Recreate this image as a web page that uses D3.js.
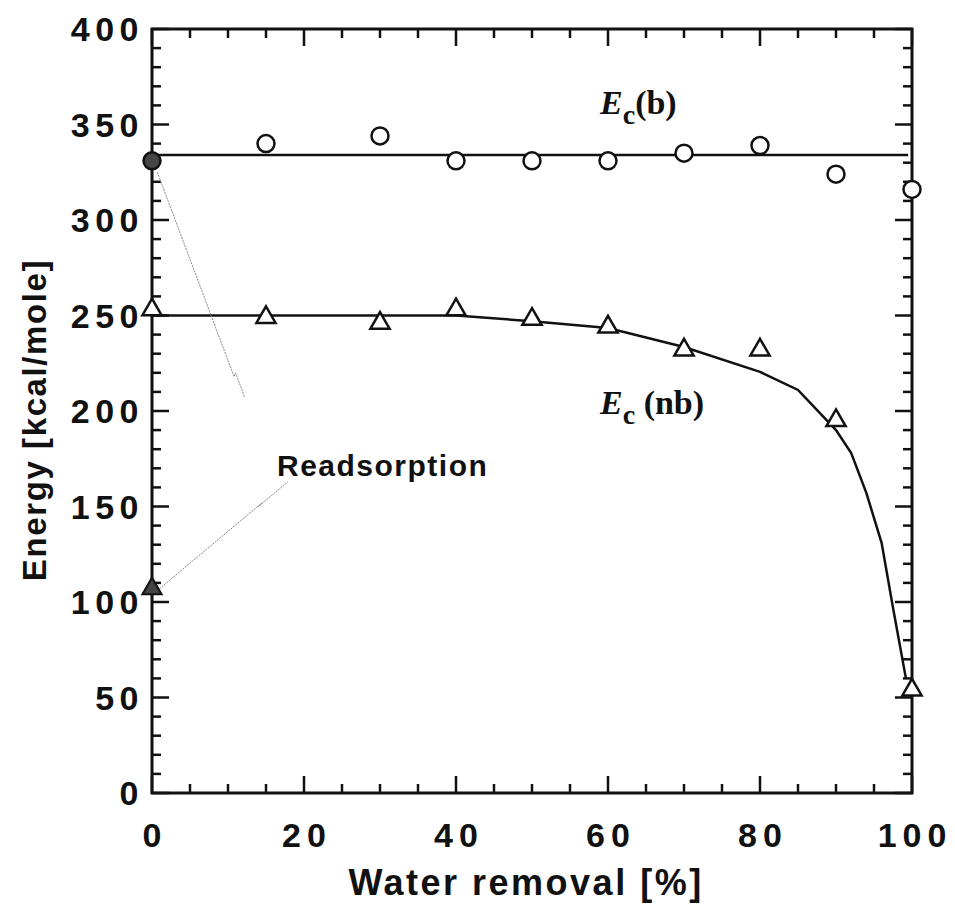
<!DOCTYPE html>
<html>
<head>
<meta charset="utf-8">
<script src="https://cdn.jsdelivr.net/npm/d3@7"></script>
<style>
  body { margin: 0; background: #fff; }
  svg { display: block; }
  .tick-label { font-family: "Liberation Sans", Arial, sans-serif; font-weight: bold; font-size: 34px; fill: #111; }
  .axis-title { font-family: "Liberation Sans", Arial, sans-serif; font-weight: bold; fill: #111; }
  .serif { font-family: "Liberation Serif", "DejaVu Serif", serif; font-weight: bold; fill: #111; }
</style>
</head>
<body>
<svg width="955" height="907"></svg>
<script>
// data
const xTicks = [0, 20, 40, 60, 80, 100];
const yTicks = [0, 50, 100, 150, 200, 250, 300, 350, 400];

const removal = [0, 15, 30, 40, 50, 60, 70, 80, 90, 100];
const ecBonded = [331, 340, 344, 331, 331, 331, 335, 339, 324, 316];
const ecNonBonded = [253, 249, 246, 253, 248, 244, 232, 232, 195, 54];

// fitted lines
const fitBx = [0, 99.5];
const fitBy = [334, 334];
const fitNbx = [0, 40, 50, 60, 70, 80, 85, 90, 92, 94, 96, 97.5, 99.2];
const fitNby = [250, 250, 247, 243.5, 233.5, 220.5, 211, 190, 178, 157, 131, 97, 60];

// readsorption point
const readX = [0];
const readY = [107];

// annotation strokes (data units)
const arrowB = [[0.7, 325], [10.8, 218], [11.0, 220], [12.2, 207]];
const arrowRead = [[1.0, 107], [14.5, 152], [14.0, 150], [17.9, 163]];

const svg = d3.select("svg");
const x = d3.scaleLinear().domain([0, 100]).range([152, 912]);
const y = d3.scaleLinear().domain([0, 400]).range([793, 29]);

const g = svg.append("g");

// frame ticks: inward on all four sides
const xMinor = d3.range(0, 101, 5);
const yMinor = d3.range(0, 401, 10);

g.selectAll(".xtb").data(xMinor).enter().append("line")
    .attr("x1", d => x(d)).attr("x2", d => x(d))
    .attr("y1", y(0)).attr("y2", d => y(0) - (d % 20 === 0 ? 17 : 9))
    .attr("stroke", "#111").attr("stroke-width", 2.5);
g.selectAll(".xtt").data(xMinor).enter().append("line")
    .attr("x1", d => x(d)).attr("x2", d => x(d))
    .attr("y1", y(400)).attr("y2", d => y(400) + (d % 20 === 0 ? 17 : 9))
    .attr("stroke", "#111").attr("stroke-width", 2.5);
g.selectAll(".ytl").data(yMinor).enter().append("line")
    .attr("y1", d => y(d)).attr("y2", d => y(d))
    .attr("x1", x(0)).attr("x2", d => x(0) + (d % 50 === 0 ? 17 : 9))
    .attr("stroke", "#111").attr("stroke-width", 2.5);
g.selectAll(".ytr").data(yMinor).enter().append("line")
    .attr("y1", d => y(d)).attr("y2", d => y(d))
    .attr("x1", x(100)).attr("x2", d => x(100) - (d % 50 === 0 ? 17 : 9))
    .attr("stroke", "#111").attr("stroke-width", 2.5);

g.append("rect")
    .attr("x", x(0)).attr("y", y(400))
    .attr("width", x(100) - x(0)).attr("height", y(0) - y(400))
    .attr("fill", "none").attr("stroke", "#111").attr("stroke-width", 3);

// tick labels
g.selectAll(".xl").data(xTicks).enter().append("text")
    .attr("class", "tick-label")
    .attr("x", d => x(d) + 3)
    .attr("y", 847)
    .attr("text-anchor", "middle")
    .style("letter-spacing", "6px")
    .text(d => d);

g.selectAll(".yl").data(yTicks).enter().append("text")
    .attr("class", "tick-label")
    .attr("x", 144)
    .attr("y", d => y(d) + 12)
    .attr("text-anchor", "end")
    .style("letter-spacing", "5.5px")
    .text(d => d);

// axis titles
svg.append("text")
    .attr("class", "axis-title")
    .attr("x", x(50) - 6).attr("y", 895)
    .attr("text-anchor", "middle")
    .style("font-size", "36px")
    .style("letter-spacing", "2.5px")
    .text("Water removal [%]");

svg.append("text")
    .attr("class", "axis-title")
    .attr("transform", "translate(46,420) rotate(-90)")
    .attr("text-anchor", "middle")
    .style("font-size", "33px")
    .style("letter-spacing", "1.6px")
    .text("Energy [kcal/mole]");

// fit lines
const line = d3.line().x(d => x(d[0])).y(d => y(d[1]));
g.append("path")
    .datum(fitBx.map((v, i) => [v, fitBy[i]]))
    .attr("d", line).attr("fill", "none")
    .attr("stroke", "#111").attr("stroke-width", 2.5);
g.append("path")
    .datum(fitNbx.map((v, i) => [v, fitNby[i]]))
    .attr("d", line).attr("fill", "none")
    .attr("stroke", "#111").attr("stroke-width", 2.5);

// annotation arrows
[arrowB, arrowRead].forEach(a => {
    g.append("path")
        .datum(a)
        .attr("d", line).attr("fill", "none")
        .attr("stroke", "#888").attr("stroke-width", 1)
        .attr("stroke-dasharray", "2,1");
});

// circles: Ec(b)
g.selectAll(".cb").data(removal).enter().append("circle")
    .attr("cx", d => x(d))
    .attr("cy", (d, i) => y(ecBonded[i]))
    .attr("r", 8.5)
    .attr("fill", (d, i) => i === 0 ? "#444" : "#fff")
    .attr("stroke", "#111").attr("stroke-width", 2.5);

// triangles: Ec(nb)
const tri = d3.symbol(d3.symbolTriangle, 160);
g.selectAll(".tnb").data(removal).enter().append("path")
    .attr("d", tri)
    .attr("transform", (d, i) => `translate(${x(d)},${y(ecNonBonded[i])})`)
    .attr("fill", "#fff")
    .attr("stroke", "#111").attr("stroke-width", 2.5);

// readsorption triangle
g.selectAll(".tr").data(readX).enter().append("path")
    .attr("d", tri)
    .attr("transform", (d, i) => `translate(${x(d)},${y(readY[i])})`)
    .attr("fill", "#444")
    .attr("stroke", "#111").attr("stroke-width", 2);

// labels
function ecLabel(px, py, suffix) {
    const t = svg.append("text").attr("class", "serif")
        .attr("x", px).attr("y", py).style("font-size", "34px");
    t.append("tspan").style("font-style", "italic").text("E");
    t.append("tspan").attr("dy", 10).style("font-size", "28px").text("c");
    t.append("tspan").attr("dy", -10).text(suffix);
}
ecLabel(600, 114, "(b)");
ecLabel(600, 414, " (nb)");

svg.append("text")
    .attr("class", "axis-title")
    .attr("x", 277).attr("y", 476)
    .style("font-size", "30px")
    .style("letter-spacing", "1.5px")
    .text("Readsorption");
</script>
</body>
</html>
